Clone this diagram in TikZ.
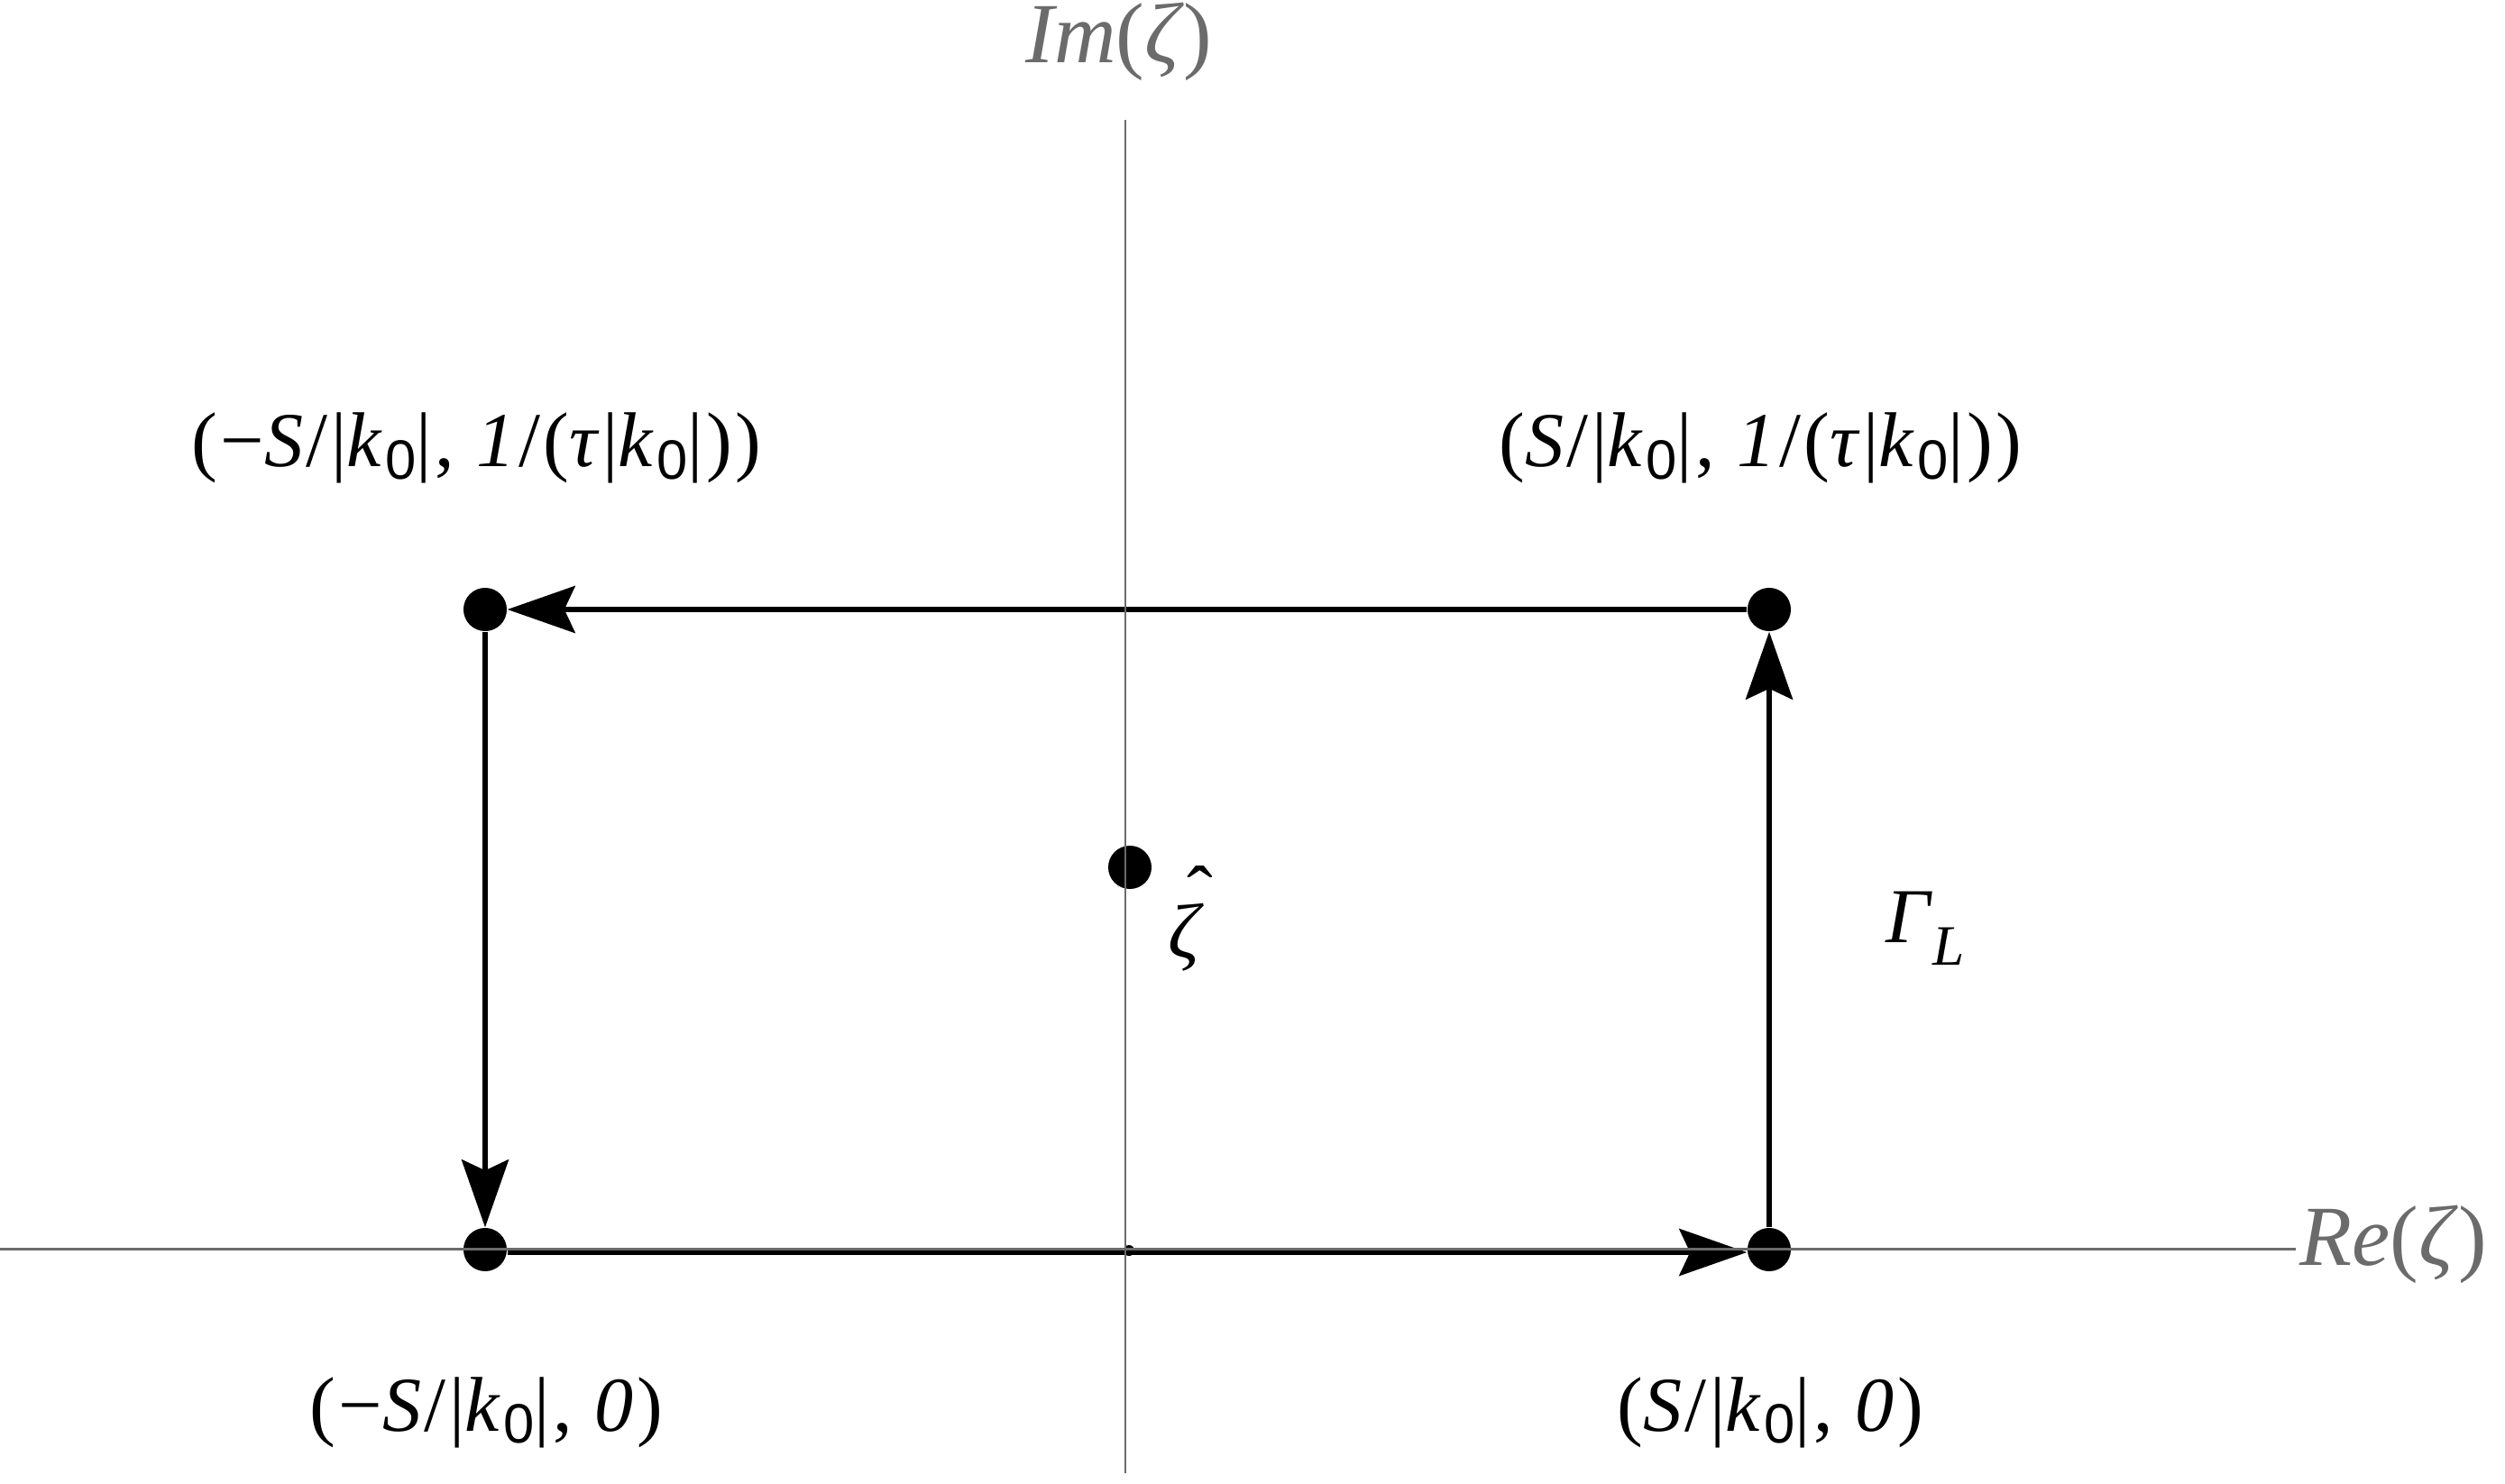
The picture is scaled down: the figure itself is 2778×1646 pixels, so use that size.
\documentclass[tikz,border=0pt]{standalone}
\usepackage{fontspec}
\setmainfont{Liberation Serif}
\setsansfont{Liberation Sans}
\usetikzlibrary{arrows.meta}
\definecolor{axisgray}{HTML}{6B6B6B}
\newcommand\kz{\textit{k}\raisebox{-0.16em}{\fontsize{17.5}{20}\sffamily 0}}
\newcommand\zhat{\makebox[0pt][l]{\hspace{0.24em}\raisebox{0.48em}{ˆ}}\textit{ζ}}
\tikzset{
  dot/.style={circle, fill=black, inner sep=0pt, minimum size=0.48cm},
  conn/.style={line width=0.06cm, -{Stealth[length=0.75cm, width=0.52cm, inset=0.12cm]}},
  axisline/.style={draw=axisgray, line width=0.027cm},
  lbl/.style={inner sep=0pt, font=\fontsize{24.5}{28}\selectfont\addfontfeatures{LetterSpace=4}},
  plainlbl/.style={inner sep=0pt, font=\fontsize{24.5}{28}\selectfont},
  axlbl/.style={inner sep=0pt, text=axisgray, font=\fontsize{27}{32}\selectfont}
}
\begin{document}
\begin{tikzpicture}[x=0.01cm, y=-0.01cm]
\useasboundingbox (0,0) rectangle (2778,1646);
% corner dots
\node[dot] (tl) at (538,676) {};
\node[dot] (tr) at (1962,676) {};
\node[dot] (bl) at (538,1386) {};
\node[dot] (br) at (1962,1386) {};
\node[dot] (zh) at (1253,962) {};
\node[circle, fill=black, inner sep=0pt, minimum size=0.12cm] (o) at (1252,1387) {};
% contour
\draw[conn] (br) -- (tr);
\draw[conn] (tr) -- (tl);
\draw[conn] (tl) -- (bl);
\coordinate (blb) at ([yshift=-0.03cm]bl.east);
\coordinate (brb) at ([yshift=-0.03cm]br.west);
\draw[conn] (blb) -- (brb);
% axes
\coordinate (xl) at (0,1385.5);
\coordinate (xr) at (2546,1385.5);
\coordinate (yt) at (1248,133);
\coordinate (yb) at (1248,1634);
\draw[axisline] (xl) -- (xr);
\draw[axisline] (yt) -- (yb);
% labels
\node[axlbl, anchor=base] (im) at (1241,70) {\textit{Im}(\textit{ζ})};
\node[axlbl, anchor=base west] (re) at (2550,1403) {\textit{Re}(\textit{ζ})};
\node[lbl, anchor=base west] (ltl) at (212,518) {(−\textit{S}/|\kz|, \textit{1}/(\textit{τ}|\kz|))};
\node[lbl, anchor=base west] (ltr) at (1662,518) {(\textit{S}/|\kz|, \textit{1}/(\textit{τ}|\kz|))};
\node[lbl, anchor=base west] (lbl) at (343,1587) {(−\textit{S}/|\kz|, \textit{0})};
\node[lbl, anchor=base west] (lbr) at (1793,1587) {(\textit{S}/|\kz|, \textit{0})};
\node[plainlbl, anchor=base west] (lzh) at (1295,1062) {\zhat};
\node[plainlbl, anchor=base west] (gam) at (2091,1045) {\textit{Γ}\raisebox{-0.3em}{\fontsize{18}{20}\selectfont\textit{L}}};
\end{tikzpicture}
\end{document}
